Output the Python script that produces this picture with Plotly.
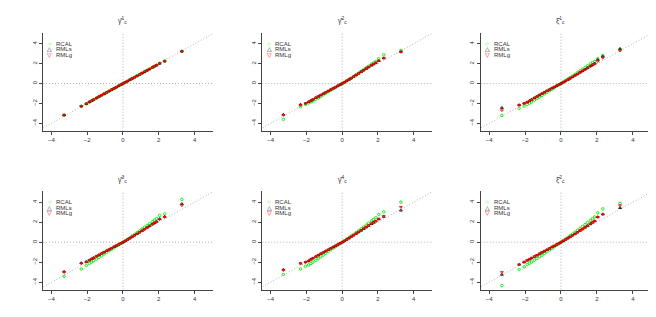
import plotly.graph_objects as go

# theoretical quantiles (x positions)
qx = [-3.29, -2.33, -2.05, -1.88, -1.75, -1.64, -1.48, -1.34, -1.2, -1.06, -0.92, -0.78, -0.64, -0.5, -0.38, -0.25, -0.12, 0,
      0.12, 0.25, 0.38, 0.5, 0.64, 0.78, 0.92, 1.06, 1.2, 1.34, 1.48, 1.64, 1.75, 1.88, 2.05, 2.33, 3.29]

titles = ["γ̂<sup>1</sup><sub>c</sub>", "γ̂<sup>2</sup><sub>c</sub>", "ξ̂<sup>1</sup><sub>c</sub>",
          "γ̂<sup>3</sup><sub>c</sub>", "γ̂<sup>4</sup><sub>c</sub>", "ξ̂<sup>2</sup><sub>c</sub>"]
series_names = ["RCAL", "RMLs", "RMLg"]
tick_vals = [-4, -2, 0, 2, 4]

# panel 1
p1_rcal = [-3.2, -2.3, -2.05, -1.87, -1.74, -1.63, -1.47, -1.33, -1.19, -1.05, -0.91, -0.77, -0.63, -0.5, -0.38, -0.25, -0.12, 0,
           0.12, 0.25, 0.38, 0.5, 0.63, 0.77, 0.91, 1.05, 1.19, 1.33, 1.47, 1.63, 1.74, 1.87, 2.05, 2.28, 3.25]
p1_rmls = [-3.16, -2.27, -2.03, -1.85, -1.72, -1.61, -1.45, -1.31, -1.17, -1.04, -0.9, -0.76, -0.62, -0.49, -0.37, -0.24, -0.12, 0,
           0.12, 0.24, 0.37, 0.49, 0.62, 0.76, 0.9, 1.04, 1.17, 1.31, 1.45, 1.61, 1.72, 1.84, 2.02, 2.24, 3.24]
p1_rmlg = [-3.17, -2.27, -2.03, -1.85, -1.72, -1.61, -1.45, -1.31, -1.17, -1.04, -0.9, -0.76, -0.62, -0.49, -0.37, -0.24, -0.12, 0,
           0.12, 0.24, 0.37, 0.49, 0.62, 0.76, 0.9, 1.04, 1.17, 1.31, 1.45, 1.61, 1.72, 1.84, 2.02, 2.23, 3.23]
# panel 2
p2_rcal = [-3.6, -2.33, -2.1, -1.97, -1.85, -1.75, -1.6, -1.45, -1.3, -1.14, -0.98, -0.83, -0.68, -0.52, -0.39, -0.25, -0.12, 0,
           0.13, 0.27, 0.41, 0.55, 0.71, 0.88, 1.05, 1.22, 1.4, 1.57, 1.75, 1.95, 2.08, 2.22, 2.5, 2.9, 3.33]
p2_rmls = [-3.12, -2.1, -1.98, -1.84, -1.71, -1.6, -1.43, -1.3, -1.16, -1.02, -0.88, -0.75, -0.61, -0.48, -0.37, -0.24, -0.12, 0,
           0.12, 0.26, 0.4, 0.53, 0.69, 0.85, 1.01, 1.17, 1.33, 1.49, 1.65, 1.83, 1.95, 2.07, 2.28, 2.55, 3.2]
p2_rmlg = [-3.17, -2.17, -2.0, -1.85, -1.72, -1.6, -1.43, -1.3, -1.16, -1.02, -0.88, -0.75, -0.61, -0.48, -0.37, -0.24, -0.12, 0,
           0.12, 0.26, 0.4, 0.53, 0.69, 0.85, 1.01, 1.17, 1.34, 1.5, 1.66, 1.84, 1.96, 2.08, 2.3, 2.57, 3.17]
# panel 3
p3_rcal = [-3.2, -2.5, -2.27, -2.1, -1.97, -1.85, -1.67, -1.52, -1.36, -1.2, -1.04, -0.88, -0.72, -0.56, -0.42, -0.27, -0.13, 0,
           0.14, 0.29, 0.44, 0.59, 0.76, 0.93, 1.1, 1.27, 1.44, 1.61, 1.78, 1.98, 2.1, 2.22, 2.5, 2.83, 3.4]
p3_rmls = [-2.43, -2.15, -1.98, -1.86, -1.73, -1.61, -1.44, -1.3, -1.15, -1.01, -0.87, -0.73, -0.6, -0.46, -0.35, -0.23, -0.11, 0,
           0.12, 0.25, 0.38, 0.51, 0.66, 0.81, 0.96, 1.12, 1.27, 1.42, 1.58, 1.76, 1.88, 2.02, 2.4, 2.73, 3.5]
p3_rmlg = [-2.7, -2.17, -2.0, -1.87, -1.74, -1.62, -1.45, -1.31, -1.16, -1.02, -0.88, -0.74, -0.6, -0.46, -0.35, -0.23, -0.11, 0,
           0.12, 0.25, 0.38, 0.5, 0.65, 0.8, 0.95, 1.1, 1.25, 1.4, 1.55, 1.72, 1.84, 1.97, 2.23, 2.57, 3.3]
# panel 4
p4_rcal = [-3.4, -2.67, -2.33, -2.13, -1.98, -1.86, -1.68, -1.52, -1.35, -1.18, -1.02, -0.86, -0.7, -0.54, -0.41, -0.27, -0.13, 0,
           0.14, 0.29, 0.44, 0.6, 0.77, 0.95, 1.13, 1.31, 1.49, 1.67, 1.85, 2.05, 2.2, 2.36, 2.67, 2.83, 4.27]
p4_rmls = [-2.93, -2.07, -1.95, -1.79, -1.66, -1.55, -1.39, -1.26, -1.12, -0.99, -0.86, -0.73, -0.6, -0.46, -0.35, -0.23, -0.11, 0,
           0.12, 0.26, 0.39, 0.53, 0.68, 0.83, 0.98, 1.14, 1.3, 1.46, 1.62, 1.8, 1.92, 2.06, 2.33, 2.55, 3.83]
p4_rmlg = [-3.0, -2.13, -1.97, -1.8, -1.67, -1.56, -1.4, -1.27, -1.13, -1.0, -0.86, -0.73, -0.6, -0.46, -0.35, -0.23, -0.11, 0,
           0.12, 0.26, 0.39, 0.52, 0.67, 0.82, 0.97, 1.12, 1.28, 1.44, 1.6, 1.78, 1.9, 2.03, 2.27, 2.5, 3.67]
# panel 5
p5_rcal = [-3.23, -2.67, -2.4, -2.27, -2.12, -2.0, -1.82, -1.65, -1.47, -1.29, -1.11, -0.93, -0.75, -0.58, -0.44, -0.29, -0.14, 0,
           0.14, 0.3, 0.45, 0.61, 0.78, 0.96, 1.14, 1.33, 1.52, 1.71, 1.9, 2.12, 2.28, 2.45, 2.77, 3.03, 4.0]
p5_rmls = [-2.73, -2.1, -1.98, -1.86, -1.71, -1.59, -1.44, -1.29, -1.15, -1.02, -0.88, -0.75, -0.61, -0.48, -0.37, -0.24, -0.12, 0,
           0.12, 0.26, 0.4, 0.54, 0.69, 0.85, 1.01, 1.17, 1.33, 1.49, 1.65, 1.83, 1.96, 2.09, 2.3, 2.55, 3.17]
p5_rmlg = [-2.8, -2.13, -2.0, -1.88, -1.72, -1.6, -1.45, -1.3, -1.16, -1.03, -0.89, -0.76, -0.62, -0.48, -0.37, -0.24, -0.12, 0,
           0.12, 0.26, 0.4, 0.54, 0.69, 0.85, 1.01, 1.17, 1.34, 1.51, 1.68, 1.86, 1.99, 2.12, 2.33, 2.6, 3.5]
# panel 6
p6_rcal = [-4.33, -2.73, -2.47, -2.23, -2.1, -1.98, -1.8, -1.63, -1.46, -1.29, -1.12, -0.95, -0.78, -0.61, -0.46, -0.3, -0.15, 0,
           0.15, 0.31, 0.47, 0.63, 0.81, 0.99, 1.18, 1.37, 1.57, 1.76, 1.96, 2.18, 2.34, 2.52, 2.93, 3.33, 3.87]
p6_rmls = [-3.23, -2.23, -1.99, -1.82, -1.7, -1.59, -1.44, -1.3, -1.16, -1.02, -0.89, -0.76, -0.62, -0.48, -0.37, -0.24, -0.12, 0,
           0.12, 0.26, 0.39, 0.53, 0.68, 0.83, 0.99, 1.15, 1.31, 1.47, 1.64, 1.84, 1.97, 2.12, 2.52, 2.8, 3.43]
p6_rmlg = [-3.0, -2.23, -1.97, -1.8, -1.68, -1.57, -1.43, -1.29, -1.15, -1.01, -0.88, -0.75, -0.62, -0.48, -0.37, -0.24, -0.12, 0,
           0.12, 0.26, 0.39, 0.52, 0.67, 0.82, 0.98, 1.14, 1.3, 1.46, 1.63, 1.82, 1.95, 2.1, 2.5, 2.77, 3.67]

panels = [(p1_rcal, p1_rmls, p1_rmlg), (p2_rcal, p2_rmls, p2_rmlg), (p3_rcal, p3_rmls, p3_rmlg),
          (p4_rcal, p4_rmls, p4_rmlg), (p5_rcal, p5_rmls, p5_rmlg), (p6_rcal, p6_rmls, p6_rmlg)]

W, H = 656, 317
x_px = [(35, 205), (254.3, 424), (472.7, 643.3)]
y_px = [(25, 122.7), (183.3, 281.7)]
x_range = [-4.47, 5.03]
y_range = [-4.74, 5.08]

colors = ["#00ee00", "#000000", "#ff0000"]
symbols = ["circle-open", "triangle-up-open", "triangle-down-open"]
legend_glyph = ["○", "△", "▽"]

fig = go.Figure()
annotations = []
shapes = []
layout = dict(width=W, height=H, margin=dict(l=0, r=0, t=0, b=0),
              plot_bgcolor="white", paper_bgcolor="white", showlegend=False,
              font=dict(family="Liberation Sans, Arial, sans-serif", size=6, color="#333"))

for i, data in enumerate(panels):
    r, c = divmod(i, 3)
    k = i + 1
    xa = "x" if k == 1 else f"x{k}"
    ya = "y" if k == 1 else f"y{k}"
    xl, xr = x_px[c]
    yt, yb = y_px[r]
    common = dict(showline=True, linecolor="#444", linewidth=1, ticks="outside", ticklen=3,
                  tickcolor="#444", tickwidth=1, showgrid=False, zeroline=False,
                  tickvals=tick_vals, tickfont=dict(size=6, color="#333"))
    layout["xaxis" + ("" if k == 1 else str(k))] = dict(domain=[xl / W, xr / W], anchor=ya,
                                                       range=x_range, **common)
    layout["yaxis" + ("" if k == 1 else str(k))] = dict(domain=[1 - yb / H, 1 - yt / H], anchor=xa,
                                                       range=y_range, tickangle=-90, **common)
    # reference lines
    dot = dict(color="#b0b0b0", width=1, dash="1px,2px")
    shapes.append(dict(type="line", xref=xa, yref=ya, x0=x_range[0], x1=x_range[1], y0=0, y1=0, line=dot, layer="below"))
    shapes.append(dict(type="line", xref=xa, yref=ya, x0=0, x1=0, y0=y_range[0], y1=y_range[1], line=dot, layer="below"))
    shapes.append(dict(type="line", xref=xa, yref=ya, x0=-4.74, x1=5.03, y0=-4.74, y1=5.03, line=dot, layer="below"))
    for s in range(3):
        fig.add_trace(go.Scatter(x=qx, y=data[s], mode="markers", name=series_names[s], xaxis=xa, yaxis=ya,
                                 marker=dict(symbol=symbols[s], size=2.5, color=colors[s],
                                             line=dict(width=0.9, color=colors[s]))))
    # title
    annotations.append(dict(text=titles[i], xref=xa, x=0, yref="paper", y=1 - (yt - 12) / H,
                            showarrow=False, font=dict(size=7, color="#333"), xanchor="center", yanchor="middle"))
    # legend
    for s in range(3):
        yy = 1 - (yt + 10.8 + 5.6 * s) / H
        annotations.append(dict(text=legend_glyph[s], xref="paper", x=(xl + 6.7) / W, yref="paper", y=yy,
                                showarrow=False, font=dict(size=6, color=colors[s]), xanchor="center", yanchor="middle"))
        annotations.append(dict(text=series_names[s], xref="paper", x=(xl + 11) / W, yref="paper", y=yy,
                                showarrow=False, font=dict(size=6, color="#333"), xanchor="left", yanchor="middle"))

layout["annotations"] = annotations
layout["shapes"] = shapes
fig.update_layout(**layout)
fig.write_html("out.html")
